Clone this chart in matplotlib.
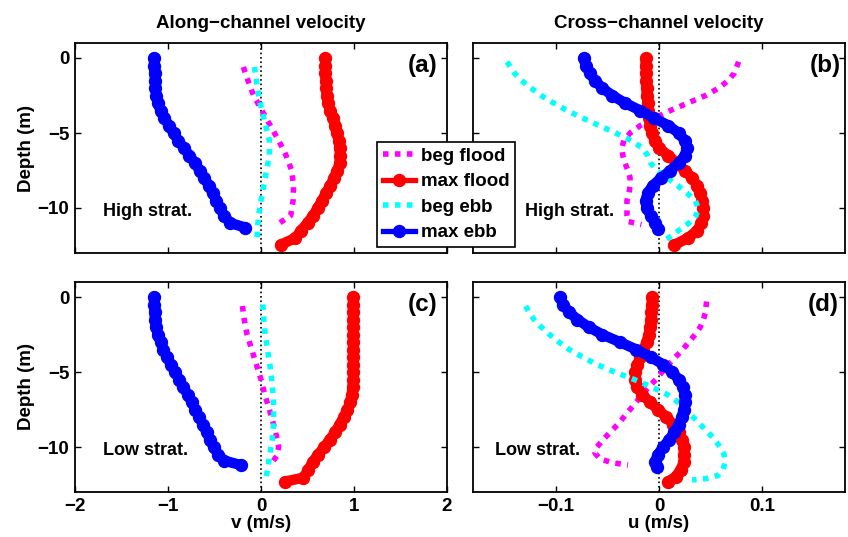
import matplotlib as mpl
mpl.use('Agg')
from matplotlib import pyplot as plt
from matplotlib.lines import Line2D

plt.rcParams['font.family'] = ['Liberation Sans', 'DejaVu Sans']
plt.rcParams['font.weight'] = 'bold'
plt.rcParams['axes.labelweight'] = 'bold'

# ---- data (depth in m, velocity in m/s) ----
# (a) high stratification, along-channel v
a_maxflood_z = [0, -0.5, -1, -1.5, -2, -2.5, -3, -3.5, -4, -4.5, -5, -5.5, -6, -6.5, -7, -7.5, -8, -8.5,
                -9, -9.5, -10, -10.5, -11, -11.5, -12, -12.45]
a_maxflood_v = [0.69, 0.69, 0.69, 0.695, 0.70, 0.705, 0.72, 0.745, 0.775, 0.80, 0.82, 0.835, 0.845, 0.85,
                0.845, 0.82, 0.785, 0.745, 0.70, 0.655, 0.61, 0.56, 0.50, 0.43, 0.37, 0.21]
a_maxebb_z = [0, -0.5, -1, -1.5, -2, -2.5, -3, -3.5, -4, -4.5, -5, -5.5, -6, -6.5, -7, -7.5, -8, -8.5,
              -9, -9.5, -10, -10.5, -11, -11.3]
a_maxebb_v = [-1.15, -1.15, -1.145, -1.14, -1.135, -1.125, -1.11, -1.08, -1.04, -0.99, -0.94, -0.89,
              -0.83, -0.77, -0.71, -0.66, -0.61, -0.56, -0.52, -0.48, -0.44, -0.40, -0.33, -0.17]
a_begflood_z = [-0.6, -1.5, -2.5, -3.5, -4.5, -5.5, -6.5, -7.5, -8.5, -9.5, -10.5, -11.2]
a_begflood_v = [-0.19, -0.14, -0.08, 0.01, 0.10, 0.19, 0.27, 0.33, 0.35, 0.345, 0.32, 0.15]
a_begebb_z = [-0.6, -1.5, -2.5, -3.5, -4.5, -5.5, -6.5, -7.5, -8.5, -9.5, -10.5, -11.5, -12.2]
a_begebb_v = [-0.07, -0.05, -0.025, 0.01, 0.05, 0.09, 0.09, 0.06, 0.03, 0.0, -0.025, -0.04, -0.04]

# (b) high stratification, cross-channel u
b_maxflood_z = [0, -0.5, -1, -1.5, -2, -2.5, -3, -3.5, -4, -4.5, -5, -5.5, -6, -6.5, -7, -7.5, -8, -8.5,
                -9, -9.5, -10, -10.5, -11, -11.5, -12, -12.45]
b_maxflood_u = [-0.013, -0.013, -0.0125, -0.0125, -0.012, -0.012, -0.011, -0.0105, -0.0095, -0.009,
                -0.007, -0.004, 0.0, 0.009, 0.017, 0.025, 0.032, 0.037, 0.040, 0.042, 0.043, 0.043,
                0.041, 0.037, 0.028, 0.015]
b_maxebb_z = [0, -0.5, -1, -1.5, -2, -2.5, -3, -3.5, -4, -4.5, -5, -5.5, -6, -6.5, -7, -7.5, -8, -8.5,
              -9, -9.5, -10, -10.5, -11, -11.4]
b_maxebb_u = [-0.073, -0.071, -0.067, -0.062, -0.055, -0.045, -0.033, -0.018, -0.005, 0.009, 0.019,
              0.025, 0.027, 0.025, 0.019, 0.011, 0.002, -0.006, -0.011, -0.013, -0.012, -0.008,
              -0.004, -0.001]
b_begflood_z = [-0.25, -1, -1.5, -2, -2.5, -3, -3.5, -4, -4.5, -5, -5.5, -6, -6.5, -7, -7.5, -8, -8.5,
                -9, -9.5, -10, -10.5, -10.9, -11.1]
b_begflood_u = [0.077, 0.073, 0.067, 0.058, 0.045, 0.028, 0.011, -0.004, -0.018, -0.028, -0.034,
                -0.036, -0.035, -0.033, -0.030, -0.028, -0.028, -0.029, -0.031, -0.031, -0.031,
                -0.030, -0.017]
b_begebb_z = [-0.25, -1, -1.5, -2, -2.5, -3, -3.5, -4, -4.5, -5, -5.5, -6, -6.5, -7, -7.5, -8, -8.5,
              -9, -9.5, -10, -10.5, -11, -11.5, -12.1]
b_begebb_u = [-0.147, -0.140, -0.133, -0.124, -0.114, -0.102, -0.089, -0.074, -0.058, -0.042, -0.027,
              -0.016, -0.011, -0.008, -0.002, 0.008, 0.018, 0.027, 0.035, 0.038, 0.036, 0.029,
              0.019, 0.007]

# (c) low stratification, along-channel v
c_maxflood_z = [0, -0.5, -1, -1.5, -2, -2.5, -3, -3.5, -4, -4.5, -5, -5.5, -6, -6.5, -7, -7.5, -8, -8.5,
                -9, -9.5, -10, -10.5, -11, -11.5, -12.05, -12.3]
c_maxflood_v = [0.99, 0.99, 0.99, 0.99, 0.99, 0.99, 0.99, 0.99, 0.99, 0.99, 0.99, 0.99, 0.985, 0.975,
                0.96, 0.93, 0.89, 0.845, 0.80, 0.74, 0.68, 0.615, 0.555, 0.51, 0.455, 0.26]
c_maxebb_z = [0, -0.5, -1, -1.5, -2, -2.5, -3, -3.5, -4, -4.5, -5, -5.5, -6, -6.5, -7, -7.5, -8, -8.5,
              -9, -9.5, -10, -10.5, -10.9, -11.2]
c_maxebb_v = [-1.15, -1.15, -1.145, -1.14, -1.13, -1.11, -1.08, -1.05, -1.01, -0.97, -0.925, -0.88,
              -0.835, -0.79, -0.745, -0.705, -0.665, -0.625, -0.585, -0.55, -0.51, -0.46, -0.40, -0.22]
c_begflood_z = [-0.6, -1.5, -2.5, -3.5, -4.5, -5.5, -6.5, -7.5, -8.5, -9.5, -10.0, -10.6, -11.2]
c_begflood_v = [-0.20, -0.18, -0.15, -0.10, -0.05, 0.0, 0.04, 0.09, 0.135, 0.175, 0.19, 0.17, 0.10]
c_begebb_z = [-0.5, -1.5, -2.5, -3.5, -4.5, -5.5, -6.5, -7.5, -8.5, -9.5, -10.5, -11.5, -12.2]
c_begebb_v = [0.02, 0.03, 0.045, 0.07, 0.095, 0.115, 0.13, 0.135, 0.135, 0.12, 0.095, 0.07, 0.05]

# (d) low stratification, cross-channel u
d_maxflood_z = [0, -0.5, -1, -1.5, -2, -2.5, -3, -3.5, -4, -4.5, -5, -5.5, -6, -6.5, -7, -7.5, -8, -8.5,
                -9, -9.5, -10, -10.5, -11, -11.5, -12, -12.3]
d_maxflood_u = [-0.007, -0.007, -0.0075, -0.008, -0.0085, -0.010, -0.012, -0.015, -0.018, -0.021,
                -0.023, -0.023, -0.021, -0.016, -0.009, -0.001, 0.007, 0.014, 0.019, 0.022, 0.024,
                0.024, 0.024, 0.021, 0.016, 0.009]
d_maxebb_z = [0, -0.5, -1, -1.5, -2, -2.5, -3, -3.5, -4, -4.5, -5, -5.5, -6, -6.5, -7, -7.5, -8, -8.5,
              -9, -9.5, -10, -10.5, -11, -11.3]
d_maxebb_u = [-0.096, -0.093, -0.087, -0.079, -0.068, -0.055, -0.038, -0.022, -0.008, 0.004, 0.013,
              0.019, 0.023, 0.025, 0.025, 0.024, 0.022, 0.019, 0.015, 0.010, 0.004, -0.001, -0.004,
              -0.002]
d_begflood_z = [-0.3, -1, -1.5, -2, -2.5, -3, -3.5, -4, -4.5, -5, -5.5, -6, -6.5, -7, -7.5, -8, -8.5,
                -9, -9.5, -10, -10.4, -10.8, -11.05, -11.2]
d_begflood_u = [0.046, 0.045, 0.043, 0.040, 0.035, 0.029, 0.023, 0.016, 0.009, 0.003, -0.003, -0.010,
                -0.016, -0.022, -0.028, -0.034, -0.040, -0.047, -0.054, -0.060, -0.062, -0.057,
                -0.045, -0.030]
d_begebb_z = [-0.6, -1, -1.5, -2, -2.5, -3, -3.5, -4, -4.5, -5, -5.5, -6, -6.5, -7, -7.5, -8, -8.5,
              -9, -9.5, -10, -10.5, -11, -11.5, -11.9, -12.1, -12.2]
d_begebb_u = [-0.129, -0.126, -0.121, -0.114, -0.106, -0.097, -0.087, -0.074, -0.060, -0.043, -0.024,
              -0.007, 0.008, 0.018, 0.026, 0.033, 0.040, 0.047, 0.054, 0.059, 0.063, 0.064, 0.062,
              0.057, 0.046, 0.032]

series_names = ['beg flood', 'max flood', 'beg ebb', 'max ebb']
panels = [
    ('a', 'High strat.', a_begflood_v, a_begflood_z, a_maxflood_v, a_maxflood_z,
     a_begebb_v, a_begebb_z, a_maxebb_v, a_maxebb_z),
    ('b', 'High strat.', b_begflood_u, b_begflood_z, b_maxflood_u, b_maxflood_z,
     b_begebb_u, b_begebb_z, b_maxebb_u, b_maxebb_z),
    ('c', 'Low strat.', c_begflood_v, c_begflood_z, c_maxflood_v, c_maxflood_z,
     c_begebb_v, c_begebb_z, c_maxebb_v, c_maxebb_z),
    ('d', 'Low strat.', d_begflood_u, d_begflood_z, d_maxflood_u, d_maxflood_z,
     d_begebb_u, d_begebb_z, d_maxebb_u, d_maxebb_z),
]

W, H = 848, 537
fig = plt.figure(figsize=(W / 100, H / 100), dpi=100)
# axes boxes in pixels: left, top, right, bottom
boxes = {'a': (75, 43, 447, 253), 'b': (473, 43, 845, 253),
         'c': (75, 282, 447, 492), 'd': (473, 282, 845, 492)}
lab_x = {'a': 0.975, 'b': 0.99, 'c': 0.975, 'd': 0.982}
txt_x = {'a': -1.70, 'b': -0.130, 'c': -1.70, 'd': -0.159}

FS = 13.5
dot_kw = dict(linestyle=(0, (1.0, 1.15)), linewidth=4.0, dash_capstyle='butt')
max_kw = dict(linestyle='-', linewidth=7.5, marker='o', markersize=8.6, solid_capstyle='round')
leg_max_kw = dict(linestyle='-', linewidth=3.8, marker='o', markersize=8.6)

axes = {}
for (key, strat, bfv, bfz, mfv, mfz, bev, bez, mev, mez) in panels:
    l, t, r, b = boxes[key]
    ax = fig.add_axes([l / W, 1 - b / H, (r - l) / W, (b - t) / H])
    axes[key] = ax
    ax.axvline(0, color='k', linestyle=':', linewidth=1.2)
    ax.plot(bfv, bfz, color='#ff00ff', **dot_kw)
    ax.plot(mfv, mfz, color='#ff0000', **max_kw)
    ax.plot(bev, bez, color='#00ffff', **dot_kw)
    ax.plot(mev, mez, color='#0000ff', **max_kw)
    ax.set_ylim(-13, 1)
    ax.set_yticks([-10, -5, 0])
    ax.tick_params(direction='in', top=True, right=True, length=4, width=1,
                   labelsize=FS, pad=4)
    for s in ax.spines.values():
        s.set_linewidth(1.3)
    ax.text(lab_x[key], 0.895, '(%s)' % key, transform=ax.transAxes, ha='right', va='center',
            fontsize=17.5, fontweight='bold')
    ax.text(txt_x[key], -10.2, strat, ha='left', va='center', fontsize=13, fontweight='bold')
    if key in ('a', 'c'):
        ax.set_xlim(-2, 2)
        ax.set_xticks([-2, -1, 0, 1, 2])
        ax.set_ylabel('Depth (m)', fontsize=FS, labelpad=2)
    else:
        ax.set_xlim(-0.18, 0.18)
        ax.set_xticks([-0.1, 0, 0.1])
        ax.set_xticklabels(['\u22120.1', '0', '0.1'])
        ax.tick_params(labelleft=False)
    if key in ('a', 'b'):
        ax.tick_params(labelbottom=False)

axes['a'].set_title('Along\u2212channel velocity', fontsize=FS, fontweight='bold', pad=11)
axes['b'].set_title('Cross\u2212channel velocity', fontsize=FS, fontweight='bold', pad=11)
axes['c'].set_xlabel('v (m/s)', fontsize=FS, labelpad=0)
axes['d'].set_xlabel('u (m/s)', fontsize=FS, labelpad=0)

handles = [Line2D([], [], color='#ff00ff', **dot_kw),
           Line2D([], [], color='#ff0000', **leg_max_kw),
           Line2D([], [], color='#00ffff', **dot_kw),
           Line2D([], [], color='#0000ff', **leg_max_kw)]
leg = fig.legend(handles, series_names, loc='upper left',
                 bbox_to_anchor=(377 / W, 1 - 142 / H), borderaxespad=0,
                 numpoints=1, handlelength=1.75, handletextpad=0.3, borderpad=0.3,
                 labelspacing=0.45, frameon=True, fancybox=False, edgecolor='k',
                 framealpha=1, prop={'weight': 'bold', 'size': FS})
leg.get_frame().set_linewidth(1.2)

fig.savefig('out.png', dpi=100)
